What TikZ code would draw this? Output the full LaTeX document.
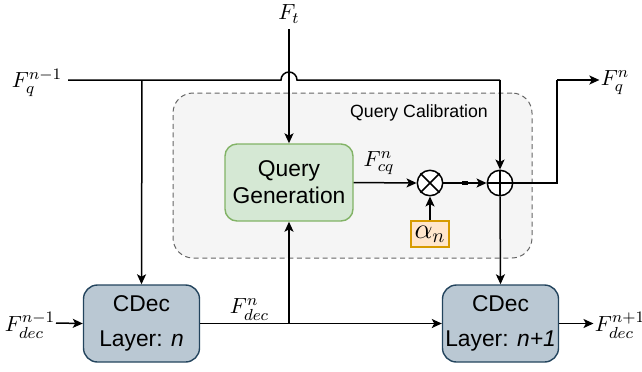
\documentclass[tikz,border=0pt]{standalone}
\usepackage[no-math]{fontspec}
\setmainfont{Liberation Sans}
\usetikzlibrary{arrows.meta}
\definecolor{cdecfill}{HTML}{BAC8D3}
\definecolor{cdecline}{HTML}{23445D}
\definecolor{qgfill}{HTML}{D5E8D4}
\definecolor{qgline}{HTML}{82B366}
\definecolor{alfill}{HTML}{FFE6CC}
\definecolor{alline}{HTML}{D79B00}
\definecolor{cfill}{HTML}{F5F5F5}
\definecolor{cline}{HTML}{666666}
\begin{document}
\begin{tikzpicture}[x=0.5pt,y=-0.5pt,
  conn/.style={line width=0.75pt, draw=black},
  arr/.style={conn,-{Stealth[length=5pt,width=4.5pt,inset=1.2pt]}},
  cdecbox/.style={draw=cdecline, fill=cdecfill, rounded corners=7pt, line width=0.7pt,
     minimum width=58pt, minimum height=38.5pt, align=center, inner sep=0pt,
     font=\fontsize{11.4}{17.5}\selectfont},
  qgbox/.style={draw=qgline, fill=qgfill, rounded corners=6pt, line width=0.7pt,
     minimum width=64pt, minimum height=38.5pt, align=center, inner sep=0pt,
     font=\fontsize{11.4}{13.5}\selectfont},
  albox/.style={draw=alline, fill=alfill, line width=0.7pt, minimum width=19pt,
     minimum height=13pt, inner sep=0pt, font=\fontsize{14}{14}\selectfont},
  calib/.style={draw=cline, fill=cfill, dash pattern=on 2.5pt off 1.8pt,
     rounded corners=10pt, line width=0.5pt, minimum width=179.5pt, minimum height=82.5pt},
  opc/.style={circle, draw=black, fill=white, line width=0.75pt, minimum size=12.7pt, inner sep=0pt},
  lab/.style={inner sep=0.5pt, font=\fontsize{10.8}{12}\selectfont},
]
\useasboundingbox (0,0) rectangle (642,371);

% container
\node[calib] (cal) at (352.5,175.5) {};
\node[font=\fontsize{8.85}{10}\selectfont] (caltext) at (419,113) {Query Calibration};

% boxes
\node[cdecbox] (c1) at (141.5,323.5) {CDec\\Layer: \textit{n}};
\node[cdecbox] (c2) at (500.5,323.5) {CDec\\Layer: \textit{n+1}};
\node[qgbox] (qg) at (289,182.5) {Query\\Generation};
\node[albox] (al) at (430,234) {$\alpha_n$};
\node[opc] (ot) at (430,183) {};
\node[opc] (op) at (500,183) {};
\draw[line width=0.75pt] (ot.north west) -- (ot.south east) (ot.north east) -- (ot.south west);
\draw[line width=0.75pt] (op.west) -- (op.east) (op.north) -- (op.south);

% labels
\node[lab] (ft) at (289,14) {$F_t$};
\node[lab] (fq1) at (37,83) {$F_q^{n-1}$};
\node[lab] (fqn) at (615,82.5) {$F_q^{n}$};
\node[lab] (fd1) at (30,325) {$F_{dec}^{n-1}$};
\node[lab] (fdn) at (249.5,309.5) {$F_{dec}^{n}$};
\node[lab] (fd2) at (620,325) {$F_{dec}^{n+1}$};
\node[lab] (fcq) at (379,163) {$F_{cq}^{n}$};

% coordinates
\coordinate (qs) at (68,80);
\coordinate (qb) at (142,80);
\coordinate (j1) at (281,80);
\coordinate (qr) at (500,80);
\coordinate (ftb) at (289,29);
\coordinate (or) at (557,183);
\coordinate (ou) at (557,80);
\coordinate (dl) at (56,323);
\coordinate (db) at (289,323);

% F_t down to query generation
\draw[arr] (ftb) -- (qg.north);
% F_q^{n-1} line with jump
\draw[conn] (qs) -- (j1) arc[start angle=180, end angle=0, radius=4pt] -- (qr);
\draw[arr] (qr) -- (op.north);
\draw[arr] (qb) -- (c1.north);
% calibration
\draw[arr] (qg.east) -- (ot.west);
\draw[arr] (al.north) -- (ot.south);
\draw[arr] (ot.east) -- (op.west);
\draw[line width=1.6pt] (462,183) -- (468,183);
\draw[arr] (op.south) -- (c2.north);
\draw[conn] (op.east) -- (or) -- (ou);
\draw[arr] (ou) -- (ou -| fqn.west);
% decoder chain
\draw[arr] (dl) -- (c1.west);
\draw[arr] (c1.east) -- (c2.west);
\draw[arr] (db) -- (qg.south);
\draw[arr] (c2.east) -- (c2.east -| fd2.west);
\end{tikzpicture}
\end{document}
